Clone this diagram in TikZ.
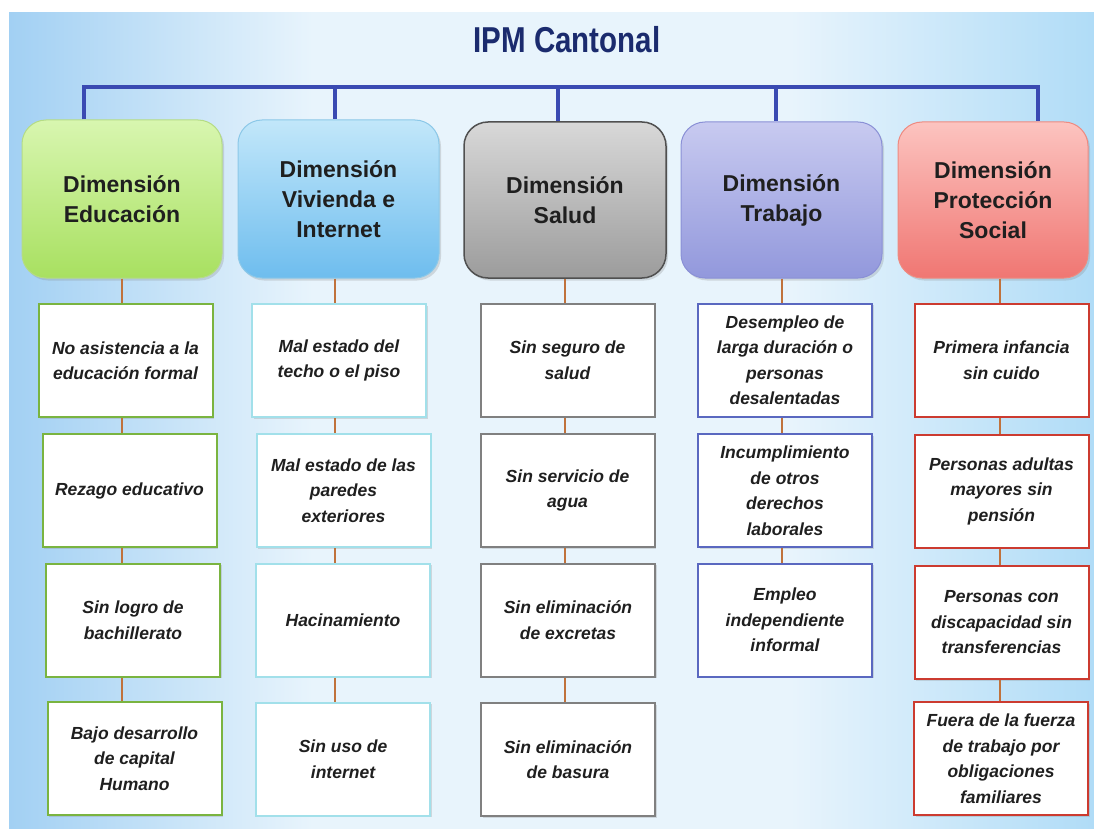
\documentclass[tikz,border=0pt]{standalone}
\usepackage{fontspec}
\setmainfont{Liberation Sans}
\newfontfamily\titlefont[FakeStretch=0.82]{Liberation Sans}
\usetikzlibrary{shadows}
\definecolor{bgL}{HTML}{A2D0F3}
\definecolor{bgM}{HTML}{E8F4FC}
\definecolor{bgR}{HTML}{B0DCF7}
\definecolor{navy}{HTML}{1B2B6E}
\definecolor{busblue}{HTML}{3A4AB2}
\definecolor{connor}{HTML}{C0723C}
\definecolor{edT}{HTML}{D8F6B0}\definecolor{edB}{HTML}{A8E060}\definecolor{edD}{HTML}{B5DC85}
\definecolor{viT}{HTML}{C2E7FA}\definecolor{viB}{HTML}{6EBDEE}\definecolor{viD}{HTML}{8CC8E8}
\definecolor{saT}{HTML}{D8D8D8}\definecolor{saB}{HTML}{9C9C9C}\definecolor{saD}{HTML}{505050}
\definecolor{trT}{HTML}{C8CAF0}\definecolor{trB}{HTML}{9298DC}\definecolor{trD}{HTML}{8A90D6}
\definecolor{prT}{HTML}{FCC4C0}\definecolor{prB}{HTML}{F07672}\definecolor{prD}{HTML}{EE8A80}
\definecolor{edI}{HTML}{7AB440}
\definecolor{viI}{HTML}{A2E0EA}
\definecolor{saI}{HTML}{808080}
\definecolor{trI}{HTML}{5A68C0}
\definecolor{prI}{HTML}{CC3B30}
\pgfdeclarehorizontalshading{bgshade}{100bp}{color(0bp)=(bgL); color(25bp)=(bgL); color(39bp)=(bgM); color(61bp)=(bgM); color(75bp)=(bgR); color(100bp)=(bgR)}
\begin{document}
\begin{tikzpicture}[x=1pt,y=-1pt,
  titlestyle/.style={font=\titlefont\bfseries\fontsize{36}{40}\selectfont, text=navy},
  hdr/.style={rounded corners=24pt, minimum width=200pt, minimum height=158pt,
    align=center, font=\bfseries\fontsize{23}{30}\selectfont, text=black!88,
    draw, line width=1pt,
    drop shadow={shadow xshift=2pt, shadow yshift=-2.5pt, opacity=0.25}},
  item/.style={draw, line width=2pt, fill=white, minimum width=174pt, minimum height=113pt,
    align=center, font=\bfseries\itshape\fontsize{17.5}{25.5}\selectfont, text=black!88,
    inner sep=2pt,
    drop shadow={shadow xshift=1.5pt, shadow yshift=-1.5pt, opacity=0.25}},
  bus/.style={draw=busblue, line width=3.5pt, line join=miter},
  conn/.style={draw=connor, line width=2pt}]
\useasboundingbox (0,0) rectangle (1094,829);
\fill[white] (0,0) rectangle (1094,829);
\shade[shading=bgshade] (9,13) rectangle (1094,829);

% title
\node[titlestyle] (title) at (567,40) {IPM Cantonal};

% bus coordinates
\coordinate (b1) at (84,87);
\coordinate (b2) at (335,87);
\coordinate (b3) at (558,87);
\coordinate (b4) at (776,87);
\coordinate (b5) at (1038,87);

% connector columns
\coordinate (k1) at (122,0);
\coordinate (k2) at (335,0);
\coordinate (k3) at (565,0);
\coordinate (k4) at (782,0);
\coordinate (k5) at (1000,0);

% headers
\node[hdr, top color=edT, bottom color=edB, draw=edD, minimum width=200pt] (ed) at (122,199) {Dimensión\\Educación};
\node[hdr, top color=viT, bottom color=viB, draw=viD, minimum width=201pt] (viv) at (338.5,199) {Dimensión\\Vivienda e\\Internet};
\node[hdr, top color=saT, bottom color=saB, draw=saD, line width=1.5pt, minimum width=202pt, minimum height=156pt] (sal) at (565,200) {Dimensión\\Salud};
\node[hdr, top color=trT, bottom color=trB, draw=trD, minimum width=201pt, minimum height=156pt] (tra) at (781.5,200) {Dimensión\\Trabajo};
\node[hdr, top color=prT, bottom color=prB, draw=prD, minimum width=190pt, minimum height=156pt] (pro) at (993,200) {Dimensión\\Protección\\Social};

% items
\node[item, draw=edI] (e1) at (125.5,360.5) {No asistencia a la\\educación formal};
\node[item, draw=edI] (e2) at (129.5,490.5) {Rezago educativo};
\node[item, draw=edI] (e3) at (133,620) {Sin logro de\\bachillerato};
\node[item, draw=edI] (e4) at (134.5,758.5) {Bajo desarrollo\\de capital\\Humano};

\node[item, draw=viI] (v1) at (339,360.5) {Mal estado del\\techo o el piso};
\node[item, draw=viI] (v2) at (343.5,490.5) {Mal estado de las\\paredes\\exteriores};
\node[item, draw=viI] (v3) at (343,620) {Hacinamiento};
\node[item, draw=viI] (v4) at (343,759) {Sin uso de\\internet};

\node[item, draw=saI] (s1) at (567.5,360) {Sin seguro de\\salud};
\node[item, draw=saI] (s2) at (567.5,490.5) {Sin servicio de\\agua};
\node[item, draw=saI] (s3) at (568,620) {Sin eliminación\\de excretas};
\node[item, draw=saI] (s4) at (568,759.5) {Sin eliminación\\de basura};

\node[item, draw=trI] (t1) at (785,360) {Desempleo de\\larga duración o\\personas\\desalentadas};
\node[item, draw=trI] (t2) at (785,490.5) {Incumplimiento\\de otros\\derechos\\laborales};
\node[item, draw=trI] (t3) at (785,620) {Empleo\\independiente\\informal};

\node[item, draw=prI] (p1) at (1001.5,360) {Primera infancia\\sin cuido};
\node[item, draw=prI] (p2) at (1001.5,491) {Personas adultas\\mayores sin\\pensión};
\node[item, draw=prI] (p3) at (1001.5,622.5) {Personas con\\discapacidad sin\\transferencias};
\node[item, draw=prI] (p4) at (1001,758.5) {Fuera de la fuerza\\de trabajo por\\obligaciones\\familiares};

% bus
\draw[bus] (b1 |- ed.north) -- (b1) -- (b5) -- (b5 |- pro.north);
\draw[bus] (b2) -- (b2 |- viv.north);
\draw[bus] (b3) -- (b3 |- sal.north);
\draw[bus] (b4) -- (b4 |- tra.north);

% connectors
\draw[conn] (k1 |- ed.south) -- (k1 |- e1.north);
\draw[conn] (k1 |- e1.south) -- (k1 |- e2.north);
\draw[conn] (k1 |- e2.south) -- (k1 |- e3.north);
\draw[conn] (k1 |- e3.south) -- (k1 |- e4.north);

\draw[conn] (k2 |- viv.south) -- (k2 |- v1.north);
\draw[conn] (k2 |- v1.south) -- (k2 |- v2.north);
\draw[conn] (k2 |- v2.south) -- (k2 |- v3.north);
\draw[conn] (k2 |- v3.south) -- (k2 |- v4.north);

\draw[conn] (k3 |- sal.south) -- (k3 |- s1.north);
\draw[conn] (k3 |- s1.south) -- (k3 |- s2.north);
\draw[conn] (k3 |- s2.south) -- (k3 |- s3.north);
\draw[conn] (k3 |- s3.south) -- (k3 |- s4.north);

\draw[conn] (k4 |- tra.south) -- (k4 |- t1.north);
\draw[conn] (k4 |- t1.south) -- (k4 |- t2.north);
\draw[conn] (k4 |- t2.south) -- (k4 |- t3.north);

\draw[conn] (k5 |- pro.south) -- (k5 |- p1.north);
\draw[conn] (k5 |- p1.south) -- (k5 |- p2.north);
\draw[conn] (k5 |- p2.south) -- (k5 |- p3.north);
\draw[conn] (k5 |- p3.south) -- (k5 |- p4.north);
\end{tikzpicture}
\end{document}
